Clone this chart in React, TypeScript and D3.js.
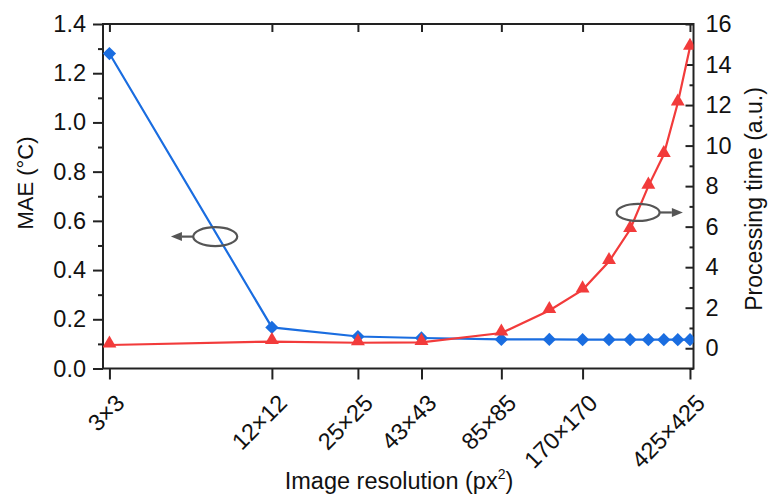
import React, { useEffect, useRef } from 'react';
import * as d3 from 'd3';

// resolution side length (px), log x axis
const resolutions = [3, 12, 25, 43, 85, 128, 170, 213, 255, 298, 340, 383, 425];
const maeValues = [1.28, 0.167, 0.13, 0.124, 0.118, 0.118, 0.117, 0.117, 0.117, 0.117, 0.117, 0.117, 0.117];
const timeValues = [0.16, 0.33, 0.27, 0.29, 0.75, 1.86, 2.88, 4.28, 5.86, 8.0, 9.56, 12.1, 14.85];

const xTickValues = [3, 12, 25, 43, 85, 170, 425];
const xTickLabels = ['3×3', '12×12', '25×25', '43×43', '85×85', '170×170', '425×425'];
const maeTicks = [0, 0.2, 0.4, 0.6, 0.8, 1.0, 1.2, 1.4];
const maeMinor = [0.1, 0.3, 0.5, 0.7, 0.9, 1.1, 1.3];
const timeTicks = [0, 2, 4, 6, 8, 10, 12, 14, 16];
const timeMinor = [-1, 1, 3, 5, 7, 9, 11, 13, 15];

const W = 768;
const H = 496;
const left = 103;
const right = 693.5;
const top = 24;
const bottom = 368.5;
const font = '"Liberation Sans", Arial, sans-serif';

const BLUE = '#1a6de0';
const RED = '#f23b3b';
const GRAY = '#555';

const Chart = () => {
  const ref = useRef<SVGSVGElement>(null);

  useEffect(() => {
    document.body.style.margin = '0';
    const svg = d3.select(ref.current);
    svg.selectAll('*').remove();

    const x = d3.scaleLog().domain([2.84, 438]).range([left, right]);
    const yL = d3.scaleLinear().domain([0, 1.4]).range([bottom, top]);
    const yR = d3.scaleLinear().domain([-1, 16]).range([bottom, top]);

    svg.append('rect').attr('width', W).attr('height', H).attr('fill', '#fff');

    svg
      .append('clipPath')
      .attr('id', 'plot-clip')
      .append('rect')
      .attr('x', left)
      .attr('y', top)
      .attr('width', right - left)
      .attr('height', bottom - top);

    // left axis
    const gL = svg.append('g').attr('transform', `translate(${left},0)`);
    gL.call(
      d3.axisLeft(yL).tickValues(maeTicks).tickSize(10).tickPadding(7).tickFormat(d3.format('.1f'))
    );
    gL.append('g').call(d3.axisLeft(yL).tickValues(maeMinor).tickSize(5).tickFormat(() => ''));

    // right axis, ticks inward
    const gR = svg.append('g').attr('transform', `translate(${right},0)`);
    gR.call(d3.axisRight(yR).tickValues(timeTicks).tickSize(-8).tickPadding(12).tickFormat(d3.format('d')));
    gR.append('g').call(d3.axisRight(yR).tickValues(timeMinor).tickSize(-4).tickFormat(() => ''));

    // bottom axis
    const gB = svg.append('g').attr('transform', `translate(0,${bottom})`);
    gB.call(
      d3
        .axisBottom(x)
        .tickValues(xTickValues)
        .tickSize(11)
        .tickFormat((_, i) => xTickLabels[i])
    );
    gB.selectAll('.tick text')
      .attr('x', 0)
      .attr('y', 0)
      .attr('dy', 0)
      .attr('transform', 'translate(16,36) rotate(-45)')
      .style('text-anchor', 'end');

    // top axis, ticks inward
    svg
      .append('g')
      .attr('transform', `translate(0,${top})`)
      .call(d3.axisTop(x).tickValues(xTickValues).tickSize(-8).tickFormat(() => ''));

    svg.selectAll('.domain').remove();
    svg.selectAll('.tick line').attr('stroke', '#222').attr('stroke-width', 2);
    svg.selectAll('.tick text').attr('font-family', font).attr('font-size', 23.5).attr('fill', '#111');

    // frame
    svg
      .append('rect')
      .attr('x', left)
      .attr('y', top)
      .attr('width', right - left)
      .attr('height', bottom - top)
      .attr('fill', 'none')
      .attr('stroke', '#222')
      .attr('stroke-width', 2);

    const plot = svg.append('g').attr('clip-path', 'url(#plot-clip)');

    // MAE series
    const maeLine = d3
      .line<number>()
      .x((_, i) => x(resolutions[i]))
      .y((d) => yL(d));
    plot.append('path').datum(maeValues).attr('d', maeLine).attr('fill', 'none').attr('stroke', BLUE).attr('stroke-width', 2.2);

    const diamond = d3.symbol(d3.symbolSquare, 88)();
    plot
      .selectAll('.mae-pt')
      .data(maeValues)
      .enter()
      .append('path')
      .attr('d', diamond)
      .attr('transform', (d, i) => `translate(${x(resolutions[i])},${yL(d)}) rotate(45)`)
      .attr('fill', BLUE);

    // processing time series
    const timeLine = d3
      .line<number>()
      .x((_, i) => x(resolutions[i]))
      .y((d) => yR(d));
    plot.append('path').datum(timeValues).attr('d', timeLine).attr('fill', 'none').attr('stroke', RED).attr('stroke-width', 2.2);

    const triangle = d3.symbol(d3.symbolTriangle, 84)();
    plot
      .selectAll('.time-pt')
      .data(timeValues)
      .enter()
      .append('path')
      .attr('d', triangle)
      .attr('transform', (d, i) => `translate(${x(resolutions[i])},${yR(d) - 1.5})`)
      .attr('fill', RED);

    // axis ovals with arrows
    const drawOval = (cx: number, cy: number, rx: number, ry: number, tip: number) => {
      svg.append('ellipse').attr('cx', cx).attr('cy', cy).attr('rx', rx).attr('ry', ry)
        .attr('fill', 'none').attr('stroke', GRAY).attr('stroke-width', 2.2);
      const dir = Math.sign(tip - cx);
      const start = cx + dir * rx;
      const base = tip - dir * 11;
      svg.append('line').attr('x1', start).attr('y1', cy).attr('x2', base).attr('y2', cy)
        .attr('stroke', GRAY).attr('stroke-width', 2.2);
      svg.append('path')
        .attr('d', `M${tip},${cy}L${base},${cy - 4.5}L${base},${cy + 4.5}Z`)
        .attr('fill', GRAY);
    };
    drawOval(x(7.4), yL(0.536), 22, 9.5, x(5.07));
    drawOval(x(273), yR(6.7), 21.5, 8.5, x(400));

    // axis titles
    svg.append('text')
      .attr('transform', `translate(33,183) rotate(-90)`)
      .attr('text-anchor', 'middle')
      .attr('font-family', font)
      .attr('font-size', 22)
      .attr('fill', '#111')
      .text('MAE (°C)');

    svg.append('text')
      .attr('transform', `translate(762,199) rotate(-90)`)
      .attr('text-anchor', 'middle')
      .attr('font-family', font)
      .attr('font-size', 23)
      .attr('fill', '#111')
      .text('Processing time (a.u.)');

    const xt = svg.append('text')
      .attr('x', 399)
      .attr('y', 489)
      .attr('text-anchor', 'middle')
      .attr('font-family', font)
      .attr('font-size', 23.5)
      .attr('fill', '#111');
    xt.append('tspan').text('Image resolution (px');
    xt.append('tspan').attr('font-size', 14).attr('dy', -10).text('2');
    xt.append('tspan').attr('dy', 10).text(')');
  }, []);

  return <svg ref={ref} width={W} height={H} style={{ display: 'block' }}></svg>;
};

export default function App() {
  return <Chart />;
}
